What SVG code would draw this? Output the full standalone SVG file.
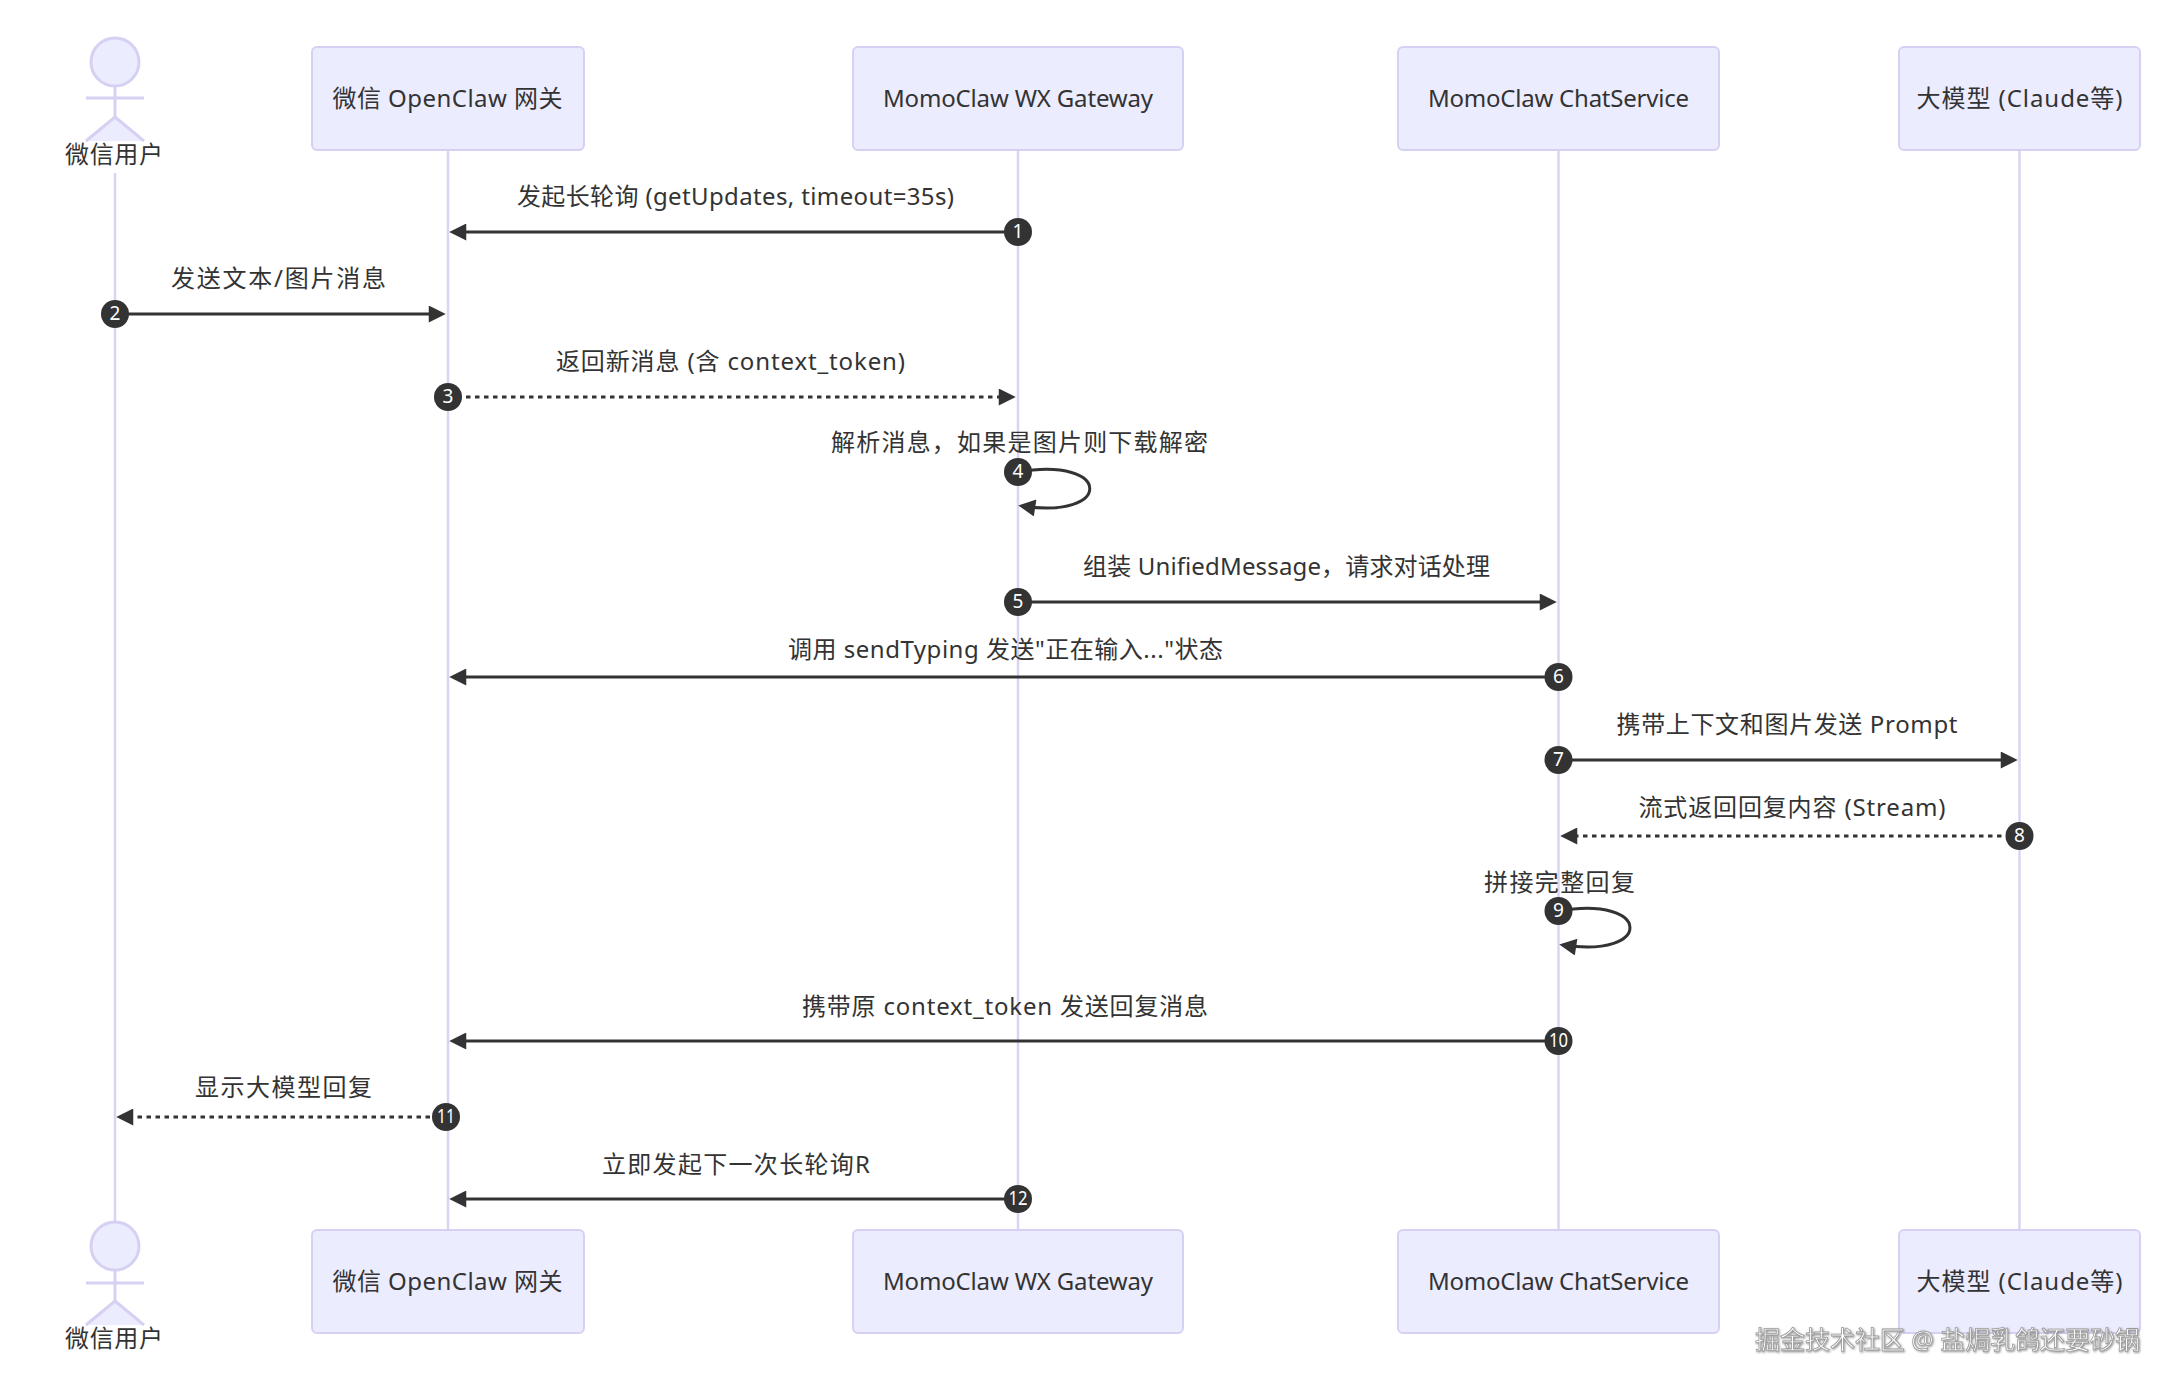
<svg xmlns="http://www.w3.org/2000/svg" width="2175" height="1389" viewBox="0 0 2175 1389">
<style>
text{font-family:"Noto Sans","Noto Sans CJK SC",sans-serif;fill:#333;}
.lbl{font-size:24px;text-anchor:middle;dominant-baseline:central;}
.abox{fill:#ECECFF;stroke:#d6d1f2;stroke-width:2;}
.life{stroke:#d9d4f3;stroke-width:2.5;fill:none;}
.man{stroke:#d6d1f2;stroke-width:3;fill:#ECECFF;}
.msg{stroke:#333;stroke-width:3;fill:none;marker-end:url(#arrow);}
.dot{stroke-dasharray:4.5,4.5;}
.num{fill:#333;}
.numt{fill:#fff;font-size:19px;text-anchor:middle;dominant-baseline:central;}
.wm{font-size:25px;fill:#ffffff;stroke:#9a9a9a;stroke-width:0.8;}
</style>
<defs>
<marker id="arrow" viewBox="0 0 10 10" refX="7.8" refY="5" markerWidth="18" markerHeight="17" markerUnits="userSpaceOnUse" orient="auto">
<path d="M0,0 L10,5 L0,10 z" fill="#333"/>
</marker>
<filter id="shadow" x="-5%" y="-30%" width="110%" height="160%">
<feDropShadow dx="1" dy="1" stdDeviation="0.8" flood-color="#777" flood-opacity="0.8"/>
</filter>
</defs>
<rect width="2175" height="1389" fill="#fff"/>

<g id="lifelines">
<line class="life" x1="115" y1="173" x2="115" y2="1222"/>
<line class="life" x1="448" y1="150" x2="448" y2="1230"/>
<line class="life" x1="1018" y1="150" x2="1018" y2="1230"/>
<line class="life" x1="1558.5" y1="150" x2="1558.5" y2="1230"/>
<line class="life" x1="2019.5" y1="150" x2="2019.5" y2="1230"/>
</g>

<g id="user">
<circle class="man" cx="115" cy="62" r="24"/>
<line class="man" x1="115" y1="86" x2="115" y2="117"/>
<line class="man" x1="86" y1="98" x2="144" y2="98"/>
<path class="man" fill="none" d="M86,141 L115,117 L144,141"/>
<text class="lbl" x="114" y="153.5" textLength="98">微信用户</text>
</g>
<g id="user-bottom">
<circle class="man" cx="115" cy="1246" r="24"/>
<line class="man" x1="115" y1="1270" x2="115" y2="1301"/>
<line class="man" x1="86" y1="1283" x2="144" y2="1283"/>
<path class="man" fill="none" d="M86,1325 L115,1301 L144,1325"/>
<text class="lbl" x="114" y="1337.5" textLength="98">微信用户</text>
</g>

<g id="openclaw">
<rect class="abox" x="312" y="47" width="272" height="103" rx="5"/>
<text class="lbl" x="447.5" y="97.5" textLength="230">微信 OpenClaw 网关</text>
</g>
<g id="openclaw-bottom">
<rect class="abox" x="312" y="1230" width="272" height="103" rx="5"/>
<text class="lbl" x="447.5" y="1280.5" textLength="230">微信 OpenClaw 网关</text>
</g>
<g id="gateway">
<rect class="abox" x="853" y="47" width="330" height="103" rx="5"/>
<text class="lbl" x="1018" y="97.5" textLength="270">MomoClaw WX Gateway</text>
</g>
<g id="gateway-bottom">
<rect class="abox" x="853" y="1230" width="330" height="103" rx="5"/>
<text class="lbl" x="1018" y="1280.5" textLength="270">MomoClaw WX Gateway</text>
</g>
<g id="chatservice">
<rect class="abox" x="1398" y="47" width="321" height="103" rx="5"/>
<text class="lbl" x="1558.5" y="97.5" textLength="261">MomoClaw ChatService</text>
</g>
<g id="chatservice-bottom">
<rect class="abox" x="1398" y="1230" width="321" height="103" rx="5"/>
<text class="lbl" x="1558.5" y="1280.5" textLength="261">MomoClaw ChatService</text>
</g>
<g id="llm">
<rect class="abox" x="1899" y="47" width="241" height="103" rx="5"/>
<text class="lbl" x="2019.5" y="97.5" textLength="206">大模型 (Claude等)</text>
</g>
<g id="llm-bottom">
<rect class="abox" x="1899" y="1230" width="241" height="103" rx="5"/>
<text class="lbl" x="2019.5" y="1280.5" textLength="206">大模型 (Claude等)</text>
</g>

<g id="connectors">
<line class="msg" x1="1018" y1="232" x2="453" y2="232"/>
<line class="msg" x1="115" y1="314" x2="442" y2="314"/>
<line class="msg dot" x1="448" y1="397" x2="1012" y2="397"/>
<path class="msg" d="M1018,472 C1113,456 1113,520 1022,506"/>
<line class="msg" x1="1018" y1="602" x2="1553" y2="602"/>
<line class="msg" x1="1558.5" y1="677" x2="453" y2="677"/>
<line class="msg" x1="1558.5" y1="760" x2="2014" y2="760"/>
<line class="msg dot" x1="2019.5" y1="836" x2="1564" y2="836"/>
<path class="msg" d="M1558.5,911 C1653,895 1653,959 1563,945"/>
<line class="msg" x1="1558.5" y1="1041" x2="453" y2="1041"/>
<line class="msg dot" x1="448" y1="1117" x2="120" y2="1117"/>
<line class="msg" x1="1018" y1="1199" x2="453" y2="1199"/>
</g>

<g id="labels">
<text class="lbl" x="735.5" y="195.5" textLength="437">发起长轮询 (getUpdates, timeout=35s)</text>
<text class="lbl" x="278.5" y="277.5" textLength="215">发送文本/图片消息</text>
<text class="lbl" x="730.5" y="360.5" textLength="349">返回新消息 (含 context_token)</text>
<text class="lbl" x="1019.5" y="441.5" textLength="377">解析消息，如果是图片则下载解密</text>
<text class="lbl" x="1286.5" y="565.5" textLength="407">组装 UnifiedMessage，请求对话处理</text>
<text class="lbl" x="1005.5" y="648.5" textLength="435">调用 sendTyping 发送"正在输入..."状态</text>
<text class="lbl" x="1787" y="723.5" textLength="341">携带上下文和图片发送 Prompt</text>
<text class="lbl" x="1792" y="806.5" textLength="307">流式返回回复内容 (Stream)</text>
<text class="lbl" x="1559.5" y="881.5" textLength="151">拼接完整回复</text>
<text class="lbl" x="1005" y="1005.5" textLength="406">携带原 context_token 发送回复消息</text>
<text class="lbl" x="283.5" y="1086.5" textLength="177">显示大模型回复</text>
<text class="lbl" x="736" y="1163.5" textLength="268">立即发起下一次长轮询R</text>
</g>

<g id="numbers">
<circle class="num" cx="1018" cy="232" r="14"/><text class="numt" x="1018" y="231">1</text>
<circle class="num" cx="115" cy="314" r="14"/><text class="numt" x="115" y="313">2</text>
<circle class="num" cx="448" cy="397" r="14"/><text class="numt" x="448" y="396">3</text>
<circle class="num" cx="1018" cy="472" r="14"/><text class="numt" x="1018" y="471">4</text>
<circle class="num" cx="1018" cy="602" r="14"/><text class="numt" x="1018" y="601">5</text>
<circle class="num" cx="1558.5" cy="677" r="14"/><text class="numt" x="1558.5" y="676">6</text>
<circle class="num" cx="1558.5" cy="760" r="14"/><text class="numt" x="1558.5" y="759">7</text>
<circle class="num" cx="2019.5" cy="836" r="14"/><text class="numt" x="2019.5" y="835">8</text>
<circle class="num" cx="1558.5" cy="911" r="14"/><text class="numt" x="1558.5" y="910">9</text>
<circle class="num" cx="1558.5" cy="1041" r="14"/><text class="numt" x="1558.5" y="1040" textLength="19" lengthAdjust="spacingAndGlyphs">10</text>
<circle class="num" cx="446" cy="1117" r="14"/><text class="numt" x="446" y="1116" textLength="18" lengthAdjust="spacingAndGlyphs">11</text>
<circle class="num" cx="1018" cy="1199" r="14"/><text class="numt" x="1018" y="1198" textLength="19" lengthAdjust="spacingAndGlyphs">12</text>
</g>

<g id="watermark">
<text class="wm" x="1755" y="1349" textLength="385" filter="url(#shadow)">掘金技术社区 @ 盐焗乳鸽还要砂锅</text>
</g>
</svg>
